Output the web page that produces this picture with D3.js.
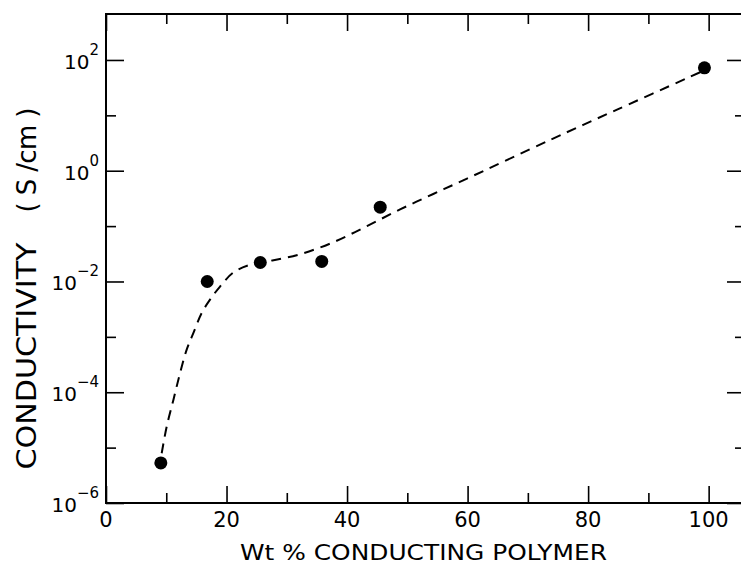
<!DOCTYPE html>
<html>
<head>
<meta charset="utf-8">
<script src="https://cdn.jsdelivr.net/npm/d3@7"></script>
<style>
  body { margin:0; background:#fff; }
  svg { display:block; }
</style>
</head>
<body>
<div class="svg-container"></div>
<script>
//measured points (wt % vs conductivity S/cm)
const wtPct = [9.1, 16.8, 25.6, 35.8, 45.5, 99.3];
const sigma = [5.3e-6, 1.0e-2, 2.2e-2, 2.3e-2, 0.22, 72];

//hand drawn fit line
const fitX = [9.24, 10.07, 11.17, 12.28, 13.39, 14.49, 15.88, 17.26, 18.92, 21.13, 23.9, 27.6, 32.2, 37.7, 43.3, 48.8, 54.3, 59.9, 73.7, 84.8, 98.6];
const fitY = [7.9e-6, 2.4e-5, 7.2e-5, 2.2e-4, 5.9e-4, 1.17e-3, 2.7e-3, 4.7e-3, 8.1e-3, 1.45e-2, 2.0e-2, 2.4e-2, 3.1e-2, 5.1e-2, 0.10, 0.20, 0.38, 0.72, 3.6, 12.7, 60];

//ticks
const xMajor = [0, 20, 40, 60, 80, 100];
const xMinor = [10, 30, 50, 70, 90];
const yMajorExp = [-6, -4, -2, 0, 2];
const yMinorExp = [-5, -3, -1, 1];

const xTitle = "Wt % CONDUCTING POLYMER";
const yTitleA = "CONDUCTIVITY";
const yTitleB = "( S /cm )";

const W = 741, H = 568;
const m = { left:106, right:743, top:14, bottom:503 };

const svg = d3.select(".svg-container")
    .append("svg")
    .attr("width", W)
    .attr("height", H);

const x = d3.scaleLinear().domain([0, 105.7]).range([m.left, m.right]);
const y = d3.scaleLog().domain([1e-6, Math.pow(10, 2.83)]).range([m.bottom, m.top]);

const font = "'DejaVu Sans', 'Liberation Sans', sans-serif";

//x ticks bottom + top, pointing inward
function xTicks(vals, len) {
    svg.append("g")
        .attr("transform", `translate(0,${m.bottom})`)
        .call(d3.axisBottom(x).tickValues(vals).tickSize(-len).tickSizeOuter(0).tickFormat(""))
        .call(g => g.select(".domain").remove())
        .call(g => g.selectAll("line").attr("stroke", "#000").attr("stroke-width", 1.6));
    svg.append("g")
        .attr("transform", `translate(0,${m.top})`)
        .call(d3.axisTop(x).tickValues(vals).tickSize(-len).tickSizeOuter(0).tickFormat(""))
        .call(g => g.select(".domain").remove())
        .call(g => g.selectAll("line").attr("stroke", "#000").attr("stroke-width", 1.6));
}
xTicks(xMajor, 17);
xTicks(xMinor, 10);

function yTicks(exps, lenL, lenR) {
    const vals = exps.map(e => Math.pow(10, e));
    svg.append("g")
        .attr("transform", `translate(${m.left},0)`)
        .call(d3.axisLeft(y).tickValues(vals).tickSize(-lenL).tickSizeOuter(0).tickFormat(""))
        .call(g => g.select(".domain").remove())
        .call(g => g.selectAll("line").attr("stroke", "#000").attr("stroke-width", 1.6));
    svg.append("g")
        .attr("transform", `translate(${m.right},0)`)
        .call(d3.axisRight(y).tickValues(vals).tickSize(-lenR).tickSizeOuter(0).tickFormat(""))
        .call(g => g.select(".domain").remove())
        .call(g => g.selectAll("line").attr("stroke", "#000").attr("stroke-width", 1.6));
}
yTicks(yMajorExp, 18, 16);
yTicks(yMinorExp, 10, 8);

//frame
svg.append("rect")
    .attr("x", m.left).attr("y", m.top)
    .attr("width", m.right - m.left).attr("height", m.bottom - m.top)
    .attr("fill", "none")
    .attr("stroke", "#000")
    .attr("stroke-width", 2);

//x tick labels
svg.selectAll(".x-lab")
    .data(xMajor)
    .join("text")
    .attr("class", "x-lab")
    .attr("x", d => x(d))
    .attr("y", m.bottom + 24)
    .attr("text-anchor", "middle")
    .attr("font-family", font)
    .attr("font-size", 21)
    .text(d => d);

//y tick labels 10^n
const yl = svg.selectAll(".y-lab")
    .data(yMajorExp)
    .join("text")
    .attr("class", "y-lab")
    .attr("x", 99)
    .attr("y", d => y(Math.pow(10, d)) + 9)
    .attr("text-anchor", "end")
    .attr("font-family", font);
yl.append("tspan").attr("font-size", 20).text("10");
yl.append("tspan").attr("font-size", 15).attr("dy", -14)
    .text(d => d < 0 ? "\u2212" + Math.abs(d) : d);

//axis titles
svg.append("text")
    .attr("x", (m.left + m.right) / 2 - 1)
    .attr("y", 560)
    .attr("text-anchor", "middle")
    .attr("font-family", font)
    .attr("font-size", 22)
    .attr("textLength", 367)
    .attr("lengthAdjust", "spacingAndGlyphs")
    .text(xTitle);

svg.append("text")
    .attr("transform", "translate(36,356) rotate(-90)")
    .attr("text-anchor", "middle")
    .attr("font-family", font)
    .attr("font-size", 26)
    .attr("textLength", 227)
    .attr("lengthAdjust", "spacingAndGlyphs")
    .text(yTitleA);

svg.append("text")
    .attr("transform", "translate(36,160) rotate(-90)")
    .attr("text-anchor", "middle")
    .attr("font-family", font)
    .attr("font-size", 26)
    .attr("textLength", 105)
    .attr("lengthAdjust", "spacing")
    .text(yTitleB);

//dashed fit curve
const fit = fitX.map((v, i) => [v, fitY[i]]);
svg.append("path")
    .datum(fit)
    .attr("d", d3.line().x(d => x(d[0])).y(d => y(d[1])).curve(d3.curveCatmullRom))
    .attr("fill", "none")
    .attr("stroke", "#000")
    .attr("stroke-width", 2)
    .attr("stroke-dasharray", "10,7");

//points
svg.selectAll(".pt")
    .data(wtPct)
    .join("circle")
    .attr("class", "pt")
    .attr("cx", d => x(d))
    .attr("cy", (d, i) => y(sigma[i]))
    .attr("r", 6.5)
    .attr("fill", "#000");
</script>
</body>
</html>
